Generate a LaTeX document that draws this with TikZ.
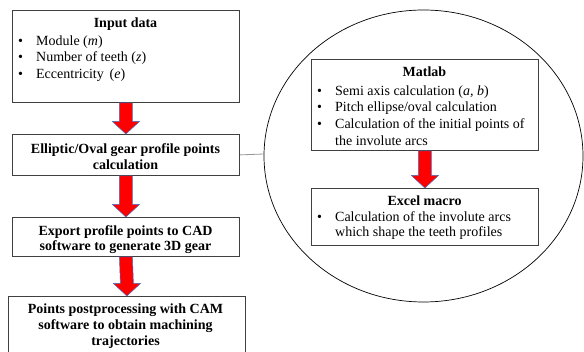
\documentclass[tikz,border=0pt]{standalone}
\usepackage{fontspec}
\setmainfont{Liberation Serif}
\usetikzlibrary{calc,shapes.geometric}
\definecolor{arrowred}{RGB}{255,0,0}
\definecolor{arrowedge}{RGB}{70,110,190}
\definecolor{linkgray}{RGB}{150,150,150}
\newcommand{\bul}{\makebox[18pt][l]{\textbullet}}
\begin{document}
\begin{tikzpicture}[x=1pt,y=-1pt,
  box/.style={draw=black!75, line width=0.8pt, fill=white, rectangle, inner sep=0pt, anchor=north west},
  txt/.style={font=\fontsize{14}{16.7}\selectfont, inner sep=0pt, align=left},
  ttl/.style={font=\fontsize{14}{16}\selectfont\bfseries, inner sep=0pt, align=center},
  bigarrow/.style={fill=arrowred, draw=arrowedge, line width=0.5pt, line join=miter}
]
\useasboundingbox (0,0) rectangle (584,352);
% oval
\node[draw=black, line width=0.7pt, ellipse, minimum width=319pt, minimum height=292pt, inner sep=0pt] (oval) at (423.5,156) {};
% left boxes
\node[box, minimum width=227pt, minimum height=92pt] (input) at (12,10) {};
\node[box, minimum width=227pt, minimum height=41pt] (ellip) at (12,134) {};
\node[box, minimum width=227pt, minimum height=39pt] (export) at (12,217) {};
\node[box, minimum width=237pt, minimum height=58pt] (post) at (8,296) {};
% right boxes
\node[box, minimum width=227pt, minimum height=91pt] (matlab) at (311,59) {};
\node[box, minimum width=227pt, minimum height=57pt] (excel) at (311,188) {};
% link line
\coordinate (ovw) at (263.6,154);
\draw[linkgray, line width=0.8pt] (ellip.east) -- (ovw);
% texts
\node[ttl] (tin) at (125.5,24) {Input data};
\node[txt, anchor=west] (lin) at (18,58.5) {\bul Module (\textit{m})\\ \bul Number of teeth (\textit{z})\\ \bul Eccentricity \,(\textit{e})};
\node[ttl] (tel) at (125.5,157) {Elliptic/Oval gear profile points\\calculation};
\node[ttl, font=\fontsize{14}{15}\selectfont\bfseries] (tex) at (125.5,240) {Export profile points to CAD\\software to generate 3D gear};
\node[ttl] (tpo) at (125.5,326) {Points postprocessing with CAM\\software to obtain machining\\trajectories};
\node[ttl] (tma) at (424.5,72) {Matlab};
\node[txt, anchor=west] (lma) at (317,115.5) {\bul Semi axis calculation (\textit{a, b})\\ \bul Pitch ellipse/oval calculation\\ \bul Calculation of the initial points of\\ \hspace*{18pt}the involute arcs};
\node[ttl] (txc) at (424.5,201) {Excel macro};
\node[txt, anchor=west, font=\fontsize{14}{15.5}\selectfont] (lxc) at (317,225.5) {\bul Calculation of the involute arcs\\ \hspace*{18pt}which shape the teeth profiles};
% arrows
\newcommand{\downarrowshape}[2]{%
  \path[bigarrow] ($(#1)+(-6.5,0)$) -- ($(#1)+(6.5,0)$) -- ($(#2)+(6.5,-12.5)$) -- ($(#2)+(13.5,-12.5)$) -- (#2) -- ($(#2)+(-13.5,-12.5)$) -- ($(#2)+(-6.5,-12.5)$) -- cycle;}
\downarrowshape{input.south}{ellip.north}
\downarrowshape{ellip.south}{export.north}
\downarrowshape{export.south}{post.north}
\downarrowshape{matlab.south}{excel.north}
\end{tikzpicture}
\end{document}
